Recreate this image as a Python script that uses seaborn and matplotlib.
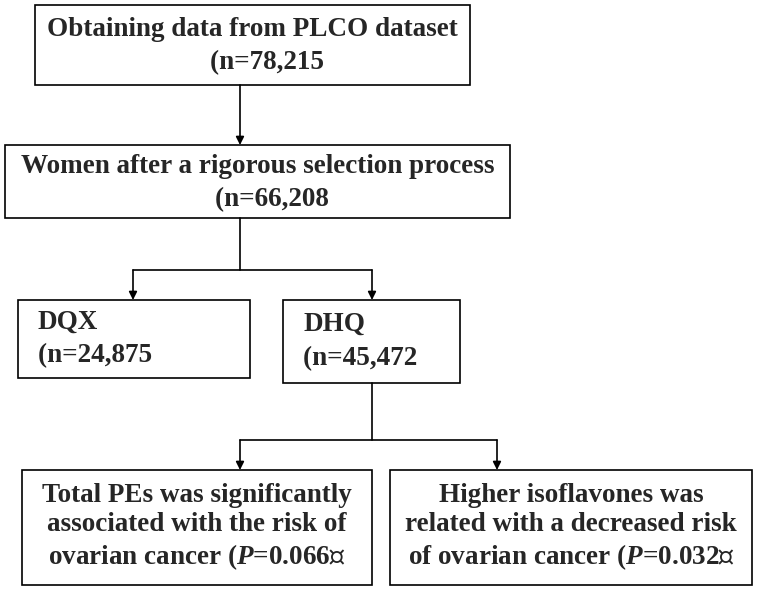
import matplotlib
matplotlib.use("Agg")
import matplotlib.pyplot as plt
import seaborn as sns

sns.set_theme(style="white")
plt.rcParams["font.family"] = ["Liberation Serif", "Noto Sans CJK SC"]
plt.rcParams["mathtext.fontset"] = "custom"
plt.rcParams["mathtext.it"] = "Liberation Serif:italic:bold"
plt.rcParams["mathtext.rm"] = "Liberation Serif:bold"

titles = ["Obtaining data from PLCO dataset",
          "Women after a rigorous selection process",
          "DQX", "DHQ",
          "Total PEs was significantly\nassociated with the risk of\novarian cancer ($\\mathit{P}$=0.066）",
          "Higher isoflavones was\nrelated with a decreased risk\nof ovarian cancer ($\\mathit{P}$=0.032）"]
counts = ["78,215", "66,208", "24,875", "45,472", None, None]
# box geometry: x0, y0, x1, y1 (pixels)
boxes = [(35, 5, 470, 85), (5, 145, 510, 218), (18, 300, 250, 378),
         (283, 300, 460, 383), (22, 470, 372, 585), (390, 470, 752, 585)]

fig = plt.figure(figsize=(7.6, 5.95), dpi=100)
ax = fig.add_axes([0, 0, 1, 1])
ax.set_xlim(0, 760); ax.set_ylim(595, 0); ax.axis("off")
fs = 19.5
for (x0, y0, x1, y1), t, n in zip(boxes, titles, counts):
    ax.add_patch(plt.Rectangle((x0, y0), x1 - x0, y1 - y0, fill=False, ec="black", lw=1.2))
    if n is not None:
        if t in ("DQX", "DHQ"):
            ax.text(x0 + 20, (y0 + y1) / 2 - 17, t, ha="left", va="center", fontsize=fs, fontweight="bold")
            ax.text(x0 + 20, (y0 + y1) / 2 + 17, f"(n={n}）", ha="left", va="center", fontsize=fs, fontweight="bold")
        else:
            ax.text((x0 + x1) / 2, (y0 + y1) / 2 - 15, t, ha="center", va="center", fontsize=fs, fontweight="bold")
            ax.text((x0 + x1) / 2 + 25, (y0 + y1) / 2 + 18, f"(n={n}）", ha="center", va="center", fontsize=fs, fontweight="bold")
    else:
        ax.text((x0 + x1) / 2, (y0 + y1) / 2, t, ha="center", va="center", fontsize=fs,
                fontweight="bold", linespacing=1.25)

def arrow(x, y0, y1):
    ax.annotate("", xy=(x, y1), xytext=(x, y0),
                arrowprops=dict(arrowstyle="-|>", color="black", lw=1.2, mutation_scale=12, shrinkA=0, shrinkB=0))

def line(xs, ys):
    ax.plot(xs, ys, color="black", lw=1.2)

arrow(240, 85, 145)
line([240, 240], [218, 270]); line([133, 372], [270, 270])
arrow(133, 270, 300); arrow(372, 270, 300)
line([372, 372], [383, 440]); line([240, 497], [440, 440])
arrow(240, 440, 470); arrow(497, 440, 470)
fig.savefig("out.png", dpi=100)
